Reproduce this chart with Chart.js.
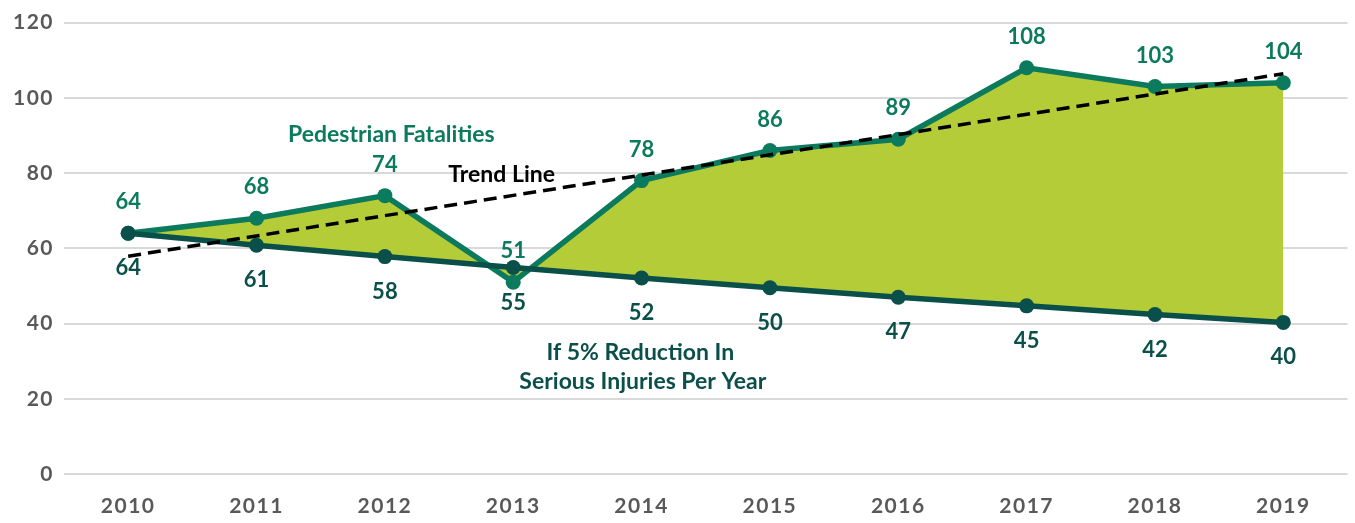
<!DOCTYPE html>
<html>
<head>
<meta charset="utf-8">
<script src="https://cdn.jsdelivr.net/npm/chart.js@4.4.0/dist/chart.umd.min.js"></script>
<style>
  html, body { margin: 0; padding: 0; background: #ffffff; }
  #wrap { width: 1355px; height: 523px; position: relative; }
</style>
</head>
<body>
<div id="wrap"><canvas id="c" width="1355" height="523"></canvas></div>
<script>
const years = ['2010','2011','2012','2013','2014','2015','2016','2017','2018','2019'];
const fatalities = [64, 68, 74, 51, 78, 86, 89, 108, 103, 104];
const reduction = [64, 60.8, 57.8, 54.9, 52.1, 49.5, 47.0, 44.7, 42.4, 40.3];
const trendEnds = [57.9, null, null, null, null, null, null, null, null, 106.4];
const yTicks = [0, 20, 40, 60, 80, 100, 120];

const C_FAT = '#0b7a5d';
const C_RED = '#0b4f4a';
const C_FILL = '#b3cc38';
const FONT = 'Lato, "Noto Sans", sans-serif';

const spacingPlugin = {
  id: 'tickSpacing',
  beforeDraw(chart) { chart.ctx.letterSpacing = '1.5px'; },
  beforeDatasetsDraw(chart) { chart.ctx.letterSpacing = '0px'; }
};

const labelsPlugin = {
  id: 'customLabels',
  afterDatasetsDraw(chart) {
    const ctx = chart.ctx;
    const xs = chart.scales.x, ys = chart.scales.y;
    ctx.save();
    ctx.letterSpacing = '0px';
    ctx.textAlign = 'center';
    ctx.textBaseline = 'middle';
    ctx.font = '700 22px ' + FONT;
    ctx.fillStyle = C_FAT;
    fatalities.forEach((v, i) => {
      ctx.fillText(String(Math.round(v)), xs.getPixelForValue(i), ys.getPixelForValue(v) - 31);
    });
    ctx.fillStyle = C_RED;
    reduction.forEach((v, i) => {
      ctx.fillText(String(Math.round(v)), xs.getPixelForValue(i), ys.getPixelForValue(v) + 35);
    });
    ctx.font = '700 23px ' + FONT;
    ctx.fillStyle = C_FAT;
    ctx.fillText('Pedestrian Fatalities', xs.getPixelForValue(2.05), ys.getPixelForValue(90.1));
    ctx.fillStyle = '#000000';
    ctx.fillText('Trend Line', xs.getPixelForValue(2.91), ys.getPixelForValue(79.6));
    ctx.fillStyle = C_RED;
    ctx.fillText('If 5% Reduction In', xs.getPixelForValue(3.99), ys.getPixelForValue(32.2));
    ctx.fillText('Serious Injuries Per Year', xs.getPixelForValue(4.01), ys.getPixelForValue(24.6));
    ctx.restore();
  }
};

new Chart(document.getElementById('c'), {
  type: 'line',
  data: {
    labels: years,
    datasets: [
      {
        label: 'Trend Line',
        data: trendEnds,
        spanGaps: true,
        borderColor: '#000000',
        borderWidth: 3.5,
        borderDash: [13, 7],
        pointRadius: 0,
        fill: false
      },
      {
        label: 'If 5% Reduction In Serious Injuries Per Year',
        data: reduction,
        borderColor: C_RED,
        backgroundColor: C_RED,
        borderWidth: 5.5,
        pointRadius: 7.5,
        pointBackgroundColor: C_RED,
        pointBorderColor: C_RED,
        pointBorderWidth: 0,
        fill: false
      },
      {
        label: 'Pedestrian Fatalities',
        data: fatalities,
        borderColor: C_FAT,
        backgroundColor: C_FILL,
        borderWidth: 5.5,
        pointRadius: 7.5,
        pointBackgroundColor: C_FAT,
        pointBorderColor: C_FAT,
        pointBorderWidth: 0,
        fill: { target: 1, above: C_FILL, below: C_FILL }
      }
    ]
  },
  options: {
    responsive: false,
    animation: false,
    devicePixelRatio: 1,
    layout: { padding: { left: 0, right: 7, top: 19, bottom: 0 } },
    plugins: {
      legend: { display: false },
      tooltip: { enabled: false },
      filler: { drawTime: 'beforeDatasetsDraw' }
    },
    scales: {
      x: {
        offset: true,
        grid: { display: false, drawTicks: false },
        border: { display: false },
        ticks: {
          color: '#595959',
          font: { family: FONT, size: 21, weight: '700' },
          padding: 20,
          maxRotation: 0
        },
        afterFit(scale) { scale.height = 49; }
      },
      y: {
        min: 0,
        max: 120,
        afterBuildTicks(scale) { scale.ticks = yTicks.map(v => ({ value: v })); },
        grid: { color: '#d9d9d9', lineWidth: 2, drawTicks: false },
        border: { display: false },
        ticks: {
          color: '#595959',
          font: { family: FONT, size: 21, weight: '700' },
          padding: 10
        },
        afterFit(scale) { scale.width = 64; }
      }
    }
  },
  plugins: [spacingPlugin, labelsPlugin]
});
</script>
</body>
</html>
